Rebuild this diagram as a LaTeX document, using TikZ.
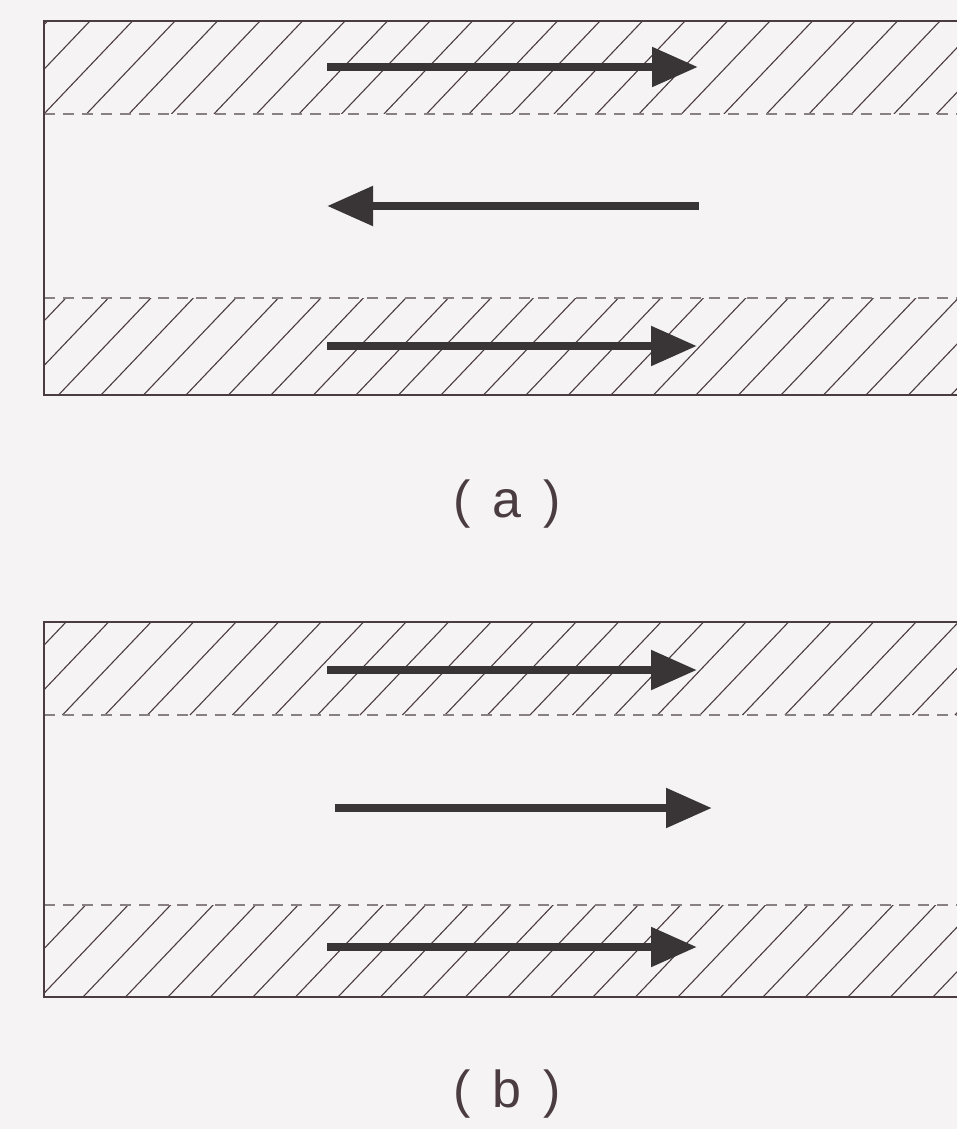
\documentclass[tikz,border=0pt]{standalone}
\usepackage{fontspec}
\setmainfont{Liberation Sans}
\usetikzlibrary{arrows.meta, positioning}
\definecolor{paper}{HTML}{F5F3F4}
\definecolor{ink}{HTML}{4A3C40}
\definecolor{shaft}{HTML}{393536}
\tikzstyle{frame}     = [draw=ink, line width=1.1pt]
\tikzstyle{hatch}     = [draw=ink, line width=0.55pt]
\tikzstyle{interface} = [draw=ink!65, line width=0.55pt, dash pattern=on 5.5pt off 4pt]
\tikzstyle{flow}      = [-{Triangle[length=23pt, width=19pt]}, line width=4.2pt, draw=shaft]
\tikzstyle{caption}   = [font=\fontsize{26}{30}\selectfont, text=ink, inner sep=0pt]

\begin{document}
\begin{tikzpicture}[x=0.5pt, y=-0.5pt]
    \useasboundingbox (0,0) rectangle (957,1129);
    \fill[paper] (0,0) rectangle (957,1129);
    \clip (0,0) rectangle (957,1129);

    % hatched wall layers: top/bottom of each band and phase of the lines
    \foreach \ytop/\ybot/\phase in {21/114/1.4, 298/395/16, 622/715/20, 905/997/40.5} {
        \begin{scope}
            \clip (44,\ytop) rectangle (960,\ybot);
            \foreach \k in {-4,...,24}
                \draw[hatch] ({\phase+42.5*\k},\ybot) -- ++(110,-115.5);
        \end{scope}
    }

    % channel (a)
    \draw[interface] (44,114) -- (960,114);
    \draw[interface] (44,298) -- (960,298);
    \draw[frame] (44,21) rectangle (975,395);

    % channel (b)
    \draw[interface] (44,715) -- (960,715);
    \draw[interface] (44,905) -- (960,905);
    \draw[frame] (44,622) rectangle (975,997);

    % arrow ends
    \coordinate (a-top-l) at (327,67);
    \coordinate (a-top-r) at (698,67);
    \coordinate (a-mid-l) at (327,206);
    \coordinate (a-mid-r) at (699,206);
    \coordinate (a-bot-l) at (327,346);
    \coordinate (a-bot-r) at (697,346);
    \coordinate (b-top-l) at (327,670);
    \coordinate (b-top-r) at (697,670);
    \coordinate (b-mid-l) at (335,808);
    \coordinate (b-mid-r) at (712,808);
    \coordinate (b-bot-l) at (327,947);
    \coordinate (b-bot-r) at (697,947);

    \draw[flow] (a-top-l) -- (a-top-r);
    \draw[flow] (a-mid-r) -- (a-mid-l);
    \draw[flow] (a-bot-l) -- (a-bot-r);
    \draw[flow] (b-top-l) -- (b-top-r);
    \draw[flow] (b-mid-l) -- (b-mid-r);
    \draw[flow] (b-bot-l) -- (b-bot-r);

    \node (capa) [caption] at (507,504) {(\hspace{0.42em}a\hspace{0.42em})};
    \node (capb) [caption] at (507,1094) {(\hspace{0.42em}b\hspace{0.42em})};
\end{tikzpicture}
\end{document}
